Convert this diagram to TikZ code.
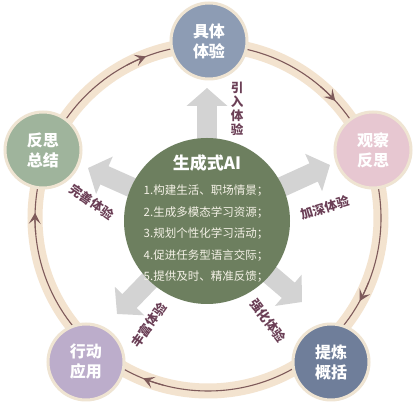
\documentclass[tikz,border=0pt]{standalone}
\usepackage{fontspec}
\setmainfont{Noto Sans CJK SC}
\usetikzlibrary{arrows.meta,calc,shadows}
\definecolor{ringband}{HTML}{F3E3CF}
\definecolor{ringline}{HTML}{7E5A5A}
\definecolor{arrowgray}{HTML}{D3D3D3}
\definecolor{labelcol}{HTML}{6B3F56}
\definecolor{nodeborder}{HTML}{EFE4D2}
\definecolor{cA}{HTML}{8D9CB4}
\definecolor{cB}{HTML}{E7C7D1}
\definecolor{cC}{HTML}{6F7E9A}
\definecolor{cD}{HTML}{BCADCB}
\definecolor{cE}{HTML}{9FB49C}
\definecolor{cO}{HTML}{6D7F5F}
\definecolor{listcol}{HTML}{F4F1E6}
\begin{document}
\begin{tikzpicture}[x=1pt,y=1pt,
  bandstyle/.style={draw=ringband, line width=15pt},
  linestyle/.style={draw=ringline, line width=1.1pt},
  ringtip/.style={linestyle, -{Stealth[length=11pt,width=12pt,inset=5pt]}},
  grayarrow/.style={draw=arrowgray, line width=20pt, -{Triangle[width=40pt,length=18pt]}},
  stage/.style={circle, minimum size=76pt, inner sep=0pt, draw=nodeborder, line width=3pt,
    text=white, align=center, font=\fontsize{16}{20}\selectfont\bfseries,
    drop shadow={shadow xshift=1pt, shadow yshift=-1pt, opacity=0.2}},
  lbl/.style={text=labelcol, font=\fontsize{12.5}{14}\selectfont\bfseries, inner sep=1pt},
  listtext/.style={text=listcol, align=left, font=\fontsize{11.5}{21.5}\selectfont, inner sep=0pt}
]
\useasboundingbox (0,0) rectangle (416,406);
\fill[white] (0,0) rectangle (416,406);
\coordinate (R0) at (208,188);
\path[bandstyle] (R0) circle (173);
\path[linestyle] (R0) circle (173);
\foreach \a in {111,42.6,-28.7,-112,178.3}
  \draw[ringtip] ($(R0)+(\a+7:173)$) arc ({\a+7}:\a:173);
% gray block arrows
\coordinate (Oc) at (207,185);
\coordinate (tA) at (207,318);
\coordinate (tB) at (330,241);
\coordinate (tC) at (302,104);
\coordinate (tD) at (117,92);
\coordinate (tE) at (88,238);
\foreach \t in {tA,tB,tC,tD,tE} \draw[grayarrow] (Oc) -- (\t);
% center
\node[circle, fill=cO, minimum size=166pt, inner sep=0pt] (O) at (Oc) {};
\node[text=white, font=\fontsize{17}{17}\selectfont\bfseries] (T) at (207,243) {生成式AI};
\node[listtext] (L) at (206,172) {1.构建生活、职场情景；\\2.生成多模态学习资源；\\3.规划个性化学习活动；\\4.促进任务型语言交际；\\5.提供及时、精准反馈；};
% stages
\node[stage, fill=cA] (A) at (209,365) {具体\\体验};
\node[stage, fill=cB] (B) at (373,256) {观察\\反思};
\node[stage, fill=cC] (C) at (331,44) {提炼\\概括};
\node[stage, fill=cD] (D) at (86,44) {行动\\应用};
\node[stage, fill=cE] (E) at (43,256) {反思\\总结};
% labels
\node[lbl, align=center] (l1) at (237,297) {引\\入\\体\\验};
\node[lbl, rotate=17] (l2) at (325,198) {加深体验};
\node[lbl, rotate=-53] (l3) at (268,85) {强化体验};
\node[lbl, rotate=55] (l4) at (149,81) {丰富体验};
\node[lbl, rotate=-35] (l5) at (92,204) {完善体验};
\end{tikzpicture}
\end{document}
